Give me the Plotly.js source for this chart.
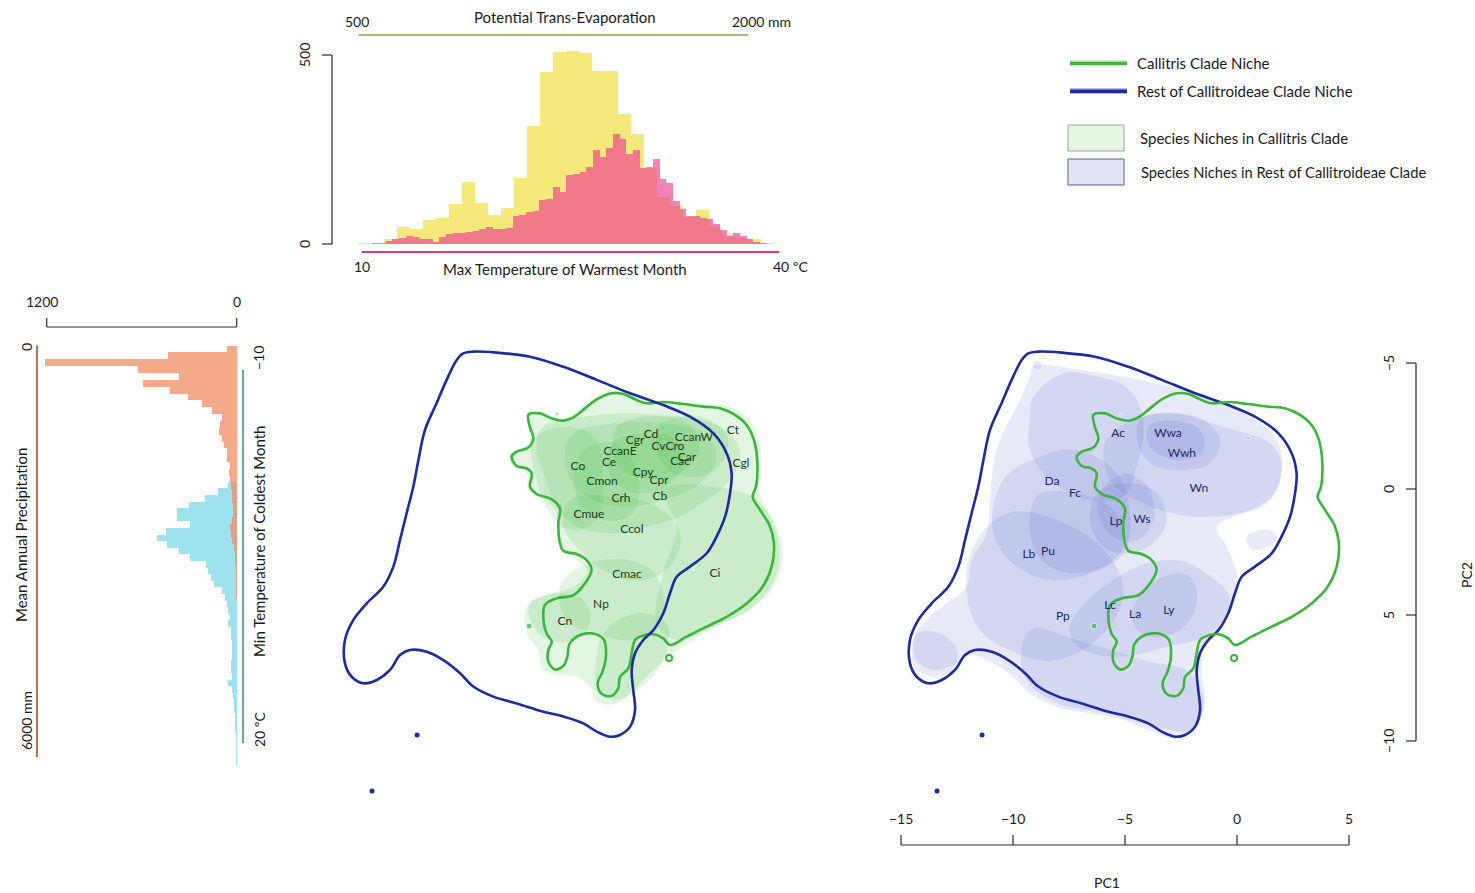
<!DOCTYPE html>
<html>
<head>
<meta charset="utf-8">
<script src="https://cdn.plot.ly/plotly-3.0.1.min.js"></script>
<style>
  html, body { margin: 0; padding: 0; background: #ffffff; }
  #chart { width: 1475px; height: 893px; }
</style>
</head>
<body>
<div id="chart"></div>
<script>
// ---------------------------------------------------------------------------
// Histograms of the climate variables
// ---------------------------------------------------------------------------
// Potential trans-evaporation, 50 mm bins from 450 mm
const petStart = 450, petWidth = 50;
const petCounts = [1, 2, 1, 14, 44, 39, 63, 70, 106, 165, 108, 77, 94, 174, 311, 456, 507, 511, 504,
  458, 459, 343, 290, 202, 125, 100, 72, 90, 46, 24, 15, 12, 3];

// Max temperature of warmest month (°C)
const tmaxStart = 8.85, tmaxWidth = 0.48;
const tmaxCounts = [1, 1, 1, 1, 2, 3, 8, 12, 17, 20, 19, 12, 14, 6, 18, 26, 28, 29, 33, 35,
  40, 46, 41, 41, 42, 74, 76, 85, 87, 116, 118, 150, 137, 183, 186, 191, 205, 249, 229, 253,
  290, 279, 238, 249, 202, 203, 224, 171, 161, 115, 92, 73, 73, 68, 67, 52, 36, 21, 28, 22,
  13, 6, 3, 1];

// Mean annual precipitation, 100 mm bins from 0 mm
const precStart = 0, precWidth = 100;
const precCounts = [59, 432, 1211, 621, 364, 590, 421, 305, 217, 154, 95, 105, 112, 95, 80, 63, 59,
  42, 48, 40, 35, 30, 28, 25, 22, 30, 40, 38, 28, 18, 12, 8, 6, 4, 3, 2, 2, 1];

// Min temperature of coldest month (°C)
const tminStart = -1.0, tminWidth = 0.53;
const tminCounts = [53, 120, 200, 300, 380, 380, 295, 445, 505, 440, 362, 295, 194, 179, 164, 143,
  95, 74, 59, 53, 42, 53, 38, 36, 30, 30, 32, 35, 33, 30, 57, 28, 21, 18, 15, 12, 11, 8, 7, 5, 4, 3, 2];

// ---------------------------------------------------------------------------
// Niche space (PC1, PC2)
// ---------------------------------------------------------------------------
const restCladeOutline = [[-9.32,-5.38],[-8.87,-5.45],[-7.83,-5.41],[-6.34,-5.25],[-4.85,-4.85],[-3.36,-4.33],
  [-1.87,-3.80],[-0.39,-3.33],[0.80,-2.87],[1.85,-2.21],[2.44,-1.42],[2.66,-0.62],[2.59,0.17],[2.37,1.10],
  [1.99,1.89],[1.55,2.55],[0.80,3.08],[0.21,3.48],[-0.09,4.14],[-0.39,4.93],[-0.83,5.60],[-1.28,5.99],
  [-1.65,6.52],[-1.80,7.18],[-1.73,7.98],[-1.65,8.77],[-1.87,9.43],[-2.32,9.76],[-2.77,9.83],[-3.36,9.63],
  [-3.96,9.30],[-4.85,9.03],[-5.74,8.84],[-6.93,8.51],[-7.98,8.24],[-8.87,7.84],[-9.46,7.31],[-10.21,6.79],
  [-10.95,6.46],[-11.70,6.39],[-12.14,6.59],[-12.59,7.18],[-13.18,7.58],[-13.78,7.71],[-14.30,7.45],
  [-14.60,6.92],[-14.60,5.99],[-14.23,5.20],[-13.63,4.54],[-12.89,3.88],[-12.44,3.08],[-12.14,2.02],
  [-11.85,0.97],[-11.55,-0.09],[-11.32,-1.15],[-11.03,-2.34],[-10.51,-3.40],[-10.06,-4.33],[-9.61,-5.12]];

const callitrisOutline = [[-6.41,-2.94],[-5.89,-3.00],[-5.37,-2.80],[-4.85,-2.71],[-4.40,-2.84],[-3.88,-3.20],
  [-3.36,-3.56],[-2.69,-3.80],[-2.17,-3.77],[-1.65,-3.56],[-1.13,-3.40],[-0.39,-3.45],[0.51,-3.37],[1.40,-3.27],
  [2.14,-3.20],[2.81,-2.94],[3.33,-2.54],[3.66,-1.94],[3.81,-1.02],[3.75,-0.09],[3.60,0.30],[3.93,0.83],
  [4.35,1.43],[4.55,2.16],[4.45,3.08],[4.00,3.94],[3.33,4.54],[2.44,5.07],[1.55,5.46],[0.65,5.86],
  [-0.09,6.19],[-0.39,5.93],[-0.76,5.77],[-1.21,5.79],[-1.65,5.99],[-1.80,6.52],[-1.95,7.12],[-2.32,7.45],
  [-2.40,7.91],[-2.69,8.21],[-3.14,8.13],[-3.32,7.71],[-3.10,7.25],[-2.95,6.65],[-3.04,5.99],[-3.36,5.77],
  [-3.81,5.73],[-4.26,5.86],[-4.58,6.15],[-4.67,6.65],[-4.85,7.02],[-5.22,7.16],[-5.52,6.85],[-5.52,6.39],
  [-5.37,6.06],[-5.60,5.73],[-5.74,5.20],[-5.67,4.60],[-5.15,4.34],[-4.40,4.21],[-3.88,3.74],[-3.59,3.21],
  [-3.81,2.82],[-4.26,2.58],[-4.85,2.45],[-5.03,2.02],[-5.07,1.30],[-5.00,0.77],[-5.37,0.41],[-6.04,0.20],
  [-6.34,-0.09],[-6.26,-0.62],[-6.49,-0.82],[-6.93,-0.91],[-7.16,-1.28],[-6.93,-1.48],[-6.41,-1.65],
  [-6.19,-2.01],[-6.34,-2.45]];

// Species niches, Callitris clade
const callitrisSpeciesNiches = [
  [[-6.49,-3.07],[-4.85,-2.80],[-3.66,-3.53],[-2.47,-3.93],[-1.13,-3.53],[1.10,-3.40],[2.59,-3.27],[3.56,-2.61],
   [4.00,-1.28],[3.93,0.17],[4.67,1.49],[4.94,2.69],[4.52,3.88],[3.63,4.67],[2.29,5.33],[0.95,5.99],[0.06,6.52],
   [-0.98,7.31],[-1.87,8.11],[-2.47,8.51],[-3.36,8.44],[-3.66,7.84],[-4.26,7.45],[-5.00,7.38],[-5.74,7.18],
   [-5.97,6.39],[-6.49,5.73],[-6.46,4.67],[-5.60,4.21],[-4.26,3.81],[-3.81,3.21],[-4.55,2.62],[-5.07,2.02],
   [-5.15,0.97],[-5.74,0.37],[-6.41,0.04],[-6.49,-0.62],[-7.16,-0.95],[-7.23,-1.42],[-6.49,-1.75],[-6.26,-2.34]],
  [[-5.74,-2.47],[-3.96,-2.87],[-1.87,-3.00],[0.36,-2.87],[2.14,-2.47],[3.04,-1.55],[2.59,-0.36],[1.55,0.44],
   [0.36,1.10],[-1.13,1.49],[-2.62,1.76],[-4.26,1.49],[-5.15,0.70],[-5.74,-0.62],[-6.04,-1.68]],
  [[-4.55,-2.08],[-2.62,-2.61],[-0.39,-2.61],[1.40,-2.21],[1.99,-1.28],[1.25,-0.22],[-0.39,0.44],[-2.17,0.70],
   [-3.81,0.30],[-4.70,-0.75]],
  [[-2.47,-1.94],[-0.98,-2.21],[0.21,-1.94],[0.51,-1.02],[-0.24,-0.09],[-1.58,0.17],[-2.62,-0.36],[-2.92,-1.28]],
  [[-4.55,0.44],[-2.62,0.30],[-0.68,0.70],[0.36,1.76],[-0.09,3.08],[-1.28,3.61],[-2.77,3.35],[-3.96,2.55],[-4.85,1.49]],
  [[-4.85,3.61],[-3.07,2.82],[-1.13,3.08],[-0.39,4.14],[-0.68,5.46],[-1.87,5.99],[-3.36,5.73],[-4.55,5.33],[-5.00,4.54]],
  [[-0.39,0.04],[1.85,-0.09],[3.78,0.44],[4.67,1.76],[4.67,3.35],[3.63,4.67],[1.85,5.46],[0.21,5.99],[-0.68,5.33],
   [-0.39,3.35],[0.21,1.49]],
  [[-6.34,4.54],[-5.15,4.14],[-3.96,4.40],[-3.66,5.33],[-4.26,5.99],[-5.45,5.99],[-6.19,5.46]],
  [[-3.07,5.73],[-1.58,4.93],[-0.24,5.33],[-0.39,6.79],[-1.58,7.98],[-2.62,8.37],[-3.36,7.84],[-3.36,6.65]],
  [[-6.19,-1.94],[-4.55,-2.47],[-3.36,-1.94],[-3.07,-0.36],[-3.36,1.23],[-4.55,1.63],[-5.45,0.97],[-6.04,-0.36]],
  [[-2.50,-2.40],[-0.80,-2.90],[0.80,-2.50],[1.20,-1.50],[0.30,-0.60],[-1.20,-0.40],[-2.40,-0.90]],
  [[-0.50,-2.60],[1.50,-2.80],[2.50,-2.00],[2.00,-0.80],[0.50,-0.50],[-0.60,-1.30]],
  [[-4.00,-1.50],[-2.50,-1.80],[-1.50,-0.50],[-1.80,1.00],[-3.20,1.20],[-4.30,0.20]]
];

// Species niches, rest of Callitroideae clade
const restSpeciesNiches = [
  [[-9.09,-4.85],[-6.56,-4.66],[-3.59,-4.19],[-1.35,-3.66],[0.58,-2.87],[1.77,-1.94],[1.99,-0.62],[1.32,0.57],
   [-0.16,1.10],[-0.91,1.49],[-0.46,2.29],[-0.01,3.35],[-0.16,4.54],[-0.76,5.60],[-1.43,6.26],[-1.58,7.31],
   [-1.43,8.37],[-1.80,9.43],[-2.69,9.89],[-3.74,9.63],[-5.07,9.17],[-6.56,8.90],[-8.05,8.64],[-9.24,8.11],
   [-9.99,7.45],[-11.03,6.85],[-11.92,6.59],[-12.66,6.98],[-13.56,7.18],[-14.30,6.79],[-14.38,5.86],
   [-13.71,5.07],[-12.96,4.54],[-12.07,3.88],[-11.85,2.82],[-11.18,1.76],[-11.03,0.44],[-10.88,-0.89],
   [-10.58,-1.94],[-9.69,-3.53],[-9.24,-4.46]],
  [[-9.09,-3.66],[-7.75,-4.59],[-6.26,-4.46],[-4.78,-3.93],[-4.18,-2.61],[-4.48,-0.89],[-5.07,0.30],[-6.56,0.44],
   [-8.35,-0.36],[-9.24,-1.55],[-9.24,-2.87]],
  [[-4.33,-2.74],[-2.84,-3.00],[-1.50,-2.74],[-0.76,-1.94],[-1.21,-1.02],[-2.40,-0.75],[-3.59,-0.89],[-4.33,-1.55]],
  [[-3.88,-2.54],[-2.54,-2.67],[-1.65,-2.34],[-1.50,-1.55],[-2.40,-1.15],[-3.59,-1.42],[-4.03,-1.94]],
  [[-5.82,-1.94],[-3.59,-3.00],[-0.61,-2.47],[1.77,-1.55],[1.77,0.04],[0.58,0.83],[-1.35,1.10],[-2.84,0.97],
   [-4.48,0.44],[-5.67,-0.36]],
  [[-6.26,0.17],[-5.07,-0.22],[-3.74,0.04],[-3.14,1.10],[-3.59,2.02],[-4.78,2.55],[-5.97,2.29],[-6.56,1.23]],
  [[-10.43,-0.36],[-8.79,-1.28],[-7.16,-1.55],[-5.37,-0.62],[-4.78,0.97],[-5.07,2.55],[-6.56,3.35],[-8.35,3.61],
   [-9.84,3.08],[-10.88,1.76]],
  [[-8.94,0.30],[-7.16,0.17],[-5.37,0.97],[-5.07,2.29],[-6.26,3.21],[-8.05,3.21],[-9.09,2.29]],
  [[-11.77,2.29],[-10.28,0.97],[-8.05,1.23],[-5.82,2.55],[-5.07,4.14],[-5.97,5.73],[-8.05,6.79],[-9.84,6.52],
   [-11.47,5.60],[-12.07,4.14]],
  [[-7.16,4.93],[-5.07,3.35],[-2.84,2.82],[-1.35,3.35],[-0.31,4.40],[-1.21,5.73],[-3.14,6.26],[-5.07,6.65],
   [-6.86,6.39],[-7.46,5.73]],
  [[-4.48,4.40],[-3.29,3.48],[-2.10,3.48],[-1.80,4.54],[-2.54,5.60],[-3.88,5.86],[-4.63,5.33]],
  [[-9.24,5.60],[-7.16,5.99],[-4.18,6.79],[-2.10,7.31],[-1.50,8.64],[-2.10,9.56],[-3.59,9.43],[-5.82,8.90],
   [-8.35,8.37],[-9.54,7.31]],
  [[-14.30,5.73],[-13.26,5.73],[-12.51,6.39],[-12.66,7.18],[-13.56,7.45],[-14.38,7.05]],
  [[0.43,1.89],[1.47,1.63],[1.77,2.02],[0.73,2.42]],
  [[-6.00,0.00],[-5.00,-0.60],[-4.00,-0.10],[-3.70,1.10],[-4.40,2.00],[-5.50,1.90],[-6.20,1.00]]
];

// Isolated occurrences
const callitrisPoints = [[-6.38,5.44],[-5.13,-2.98],[0.49,-2.02]];
const callitrisRing = [[-0.13,6.71]];
const restPoints = [[-11.38,9.76],[-13.39,11.98]];
const restFaintPoints = [[-8.93,-4.92]];

// Species labels
const callitrisLabels = ['Ct','Cgl','Cd','Cgr','CcanW','CvCro','CcanE','Car','Cac','Ce','Co','Cpy','Cpr',
  'Cmon','Crh','Cb','Cmue','Ccol','Cmac','Ci','Np','Cn'];
const callitrisLabelPC1 = [2.72,3.08,-0.94,-1.65,0.98,-0.18,-2.32,0.67,0.36,-2.81,-4.20,-1.29,-0.58,
  -3.12,-2.28,-0.54,-3.71,-1.79,-2.01,1.92,-3.17,-4.78];
const callitrisLabelPC2 = [-2.30,-0.99,-2.14,-1.90,-2.02,-1.67,-1.47,-1.23,-1.07,-1.03,-0.87,-0.63,-0.32,
  -0.28,0.40,0.32,1.03,1.63,3.41,3.37,4.60,5.28];

const restLabels = ['Ac','Wwa','Wwh','Wn','Da','Fc','Lp','Ws','Lb','Pu','Lc','La','Ly','Pp'];
const restLabelPC1 = [-5.31,-3.08,-2.46,-1.70,-8.26,-7.23,-5.40,-4.24,-9.29,-8.44,-5.67,-4.55,-3.04,-7.77];
const restLabelPC2 = [-2.18,-2.18,-1.39,0.00,-0.28,0.20,1.31,1.23,2.62,2.50,4.64,5.00,4.84,5.08];

// Axis ticks
const pc1Ticks = [-15, -10, -5, 0, 5];
const pc1TickText = ['\u221215', '\u221210', '\u22125', '0', '5'];
const pc2Ticks = [-5, 0, 5, 10];
const pc2TickText = ['\u22125', '0', '5', '\u221210'];
const topCountTicks = [0, 500];
const sideCountTicks = [0, 1200];

// ---------------------------------------------------------------------------
const W = 1475, H = 893;
const px = v => v / W;          // pixel column -> paper x
const py = v => 1 - v / H;      // pixel row -> paper y
const FONT = 'Lato, "Open Sans", sans-serif';
const INK = '#1a1a1a';

const centers = (start, width, n) => Array.from({length: n}, (_, i) => start + width * (i + 0.5));
const closed = pts => pts.concat([pts[0]]);
const xs = pts => pts.map(p => p[0]);
const ys = pts => pts.map(p => p[1]);

const GREEN_FILL = 'rgba(70,185,70,0.15)';
const BLUE_FILL = 'rgba(85,95,205,0.135)';
const GREEN_LINE = '#3bb63b';
const BLUE_LINE = '#1d2b9c';

const traces = [];

// top histogram: PET (yellow) underneath, max temperature (pink) over it
traces.push({
  type: 'bar', xaxis: 'x', yaxis: 'y',
  x: centers(petStart, petWidth, petCounts.length), y: petCounts, width: petWidth,
  marker: {color: '#f4e97a', line: {width: 0}}, hoverinfo: 'skip'
});
traces.push({
  type: 'bar', xaxis: 'x2', yaxis: 'y',
  x: centers(tmaxStart, tmaxWidth, tmaxCounts.length), y: tmaxCounts, width: tmaxWidth,
  marker: {color: 'rgba(238,62,148,0.65)', line: {width: 0}}, hoverinfo: 'skip'
});

// side histogram: min temperature (cyan) underneath, precipitation (orange) over it
traces.push({
  type: 'bar', orientation: 'h', xaxis: 'x3', yaxis: 'y3',
  y: centers(tminStart, tminWidth, tminCounts.length), x: tminCounts, width: tminWidth,
  marker: {color: 'rgba(120,215,232,0.72)', line: {width: 0}}, hoverinfo: 'skip'
});
traces.push({
  type: 'bar', orientation: 'h', xaxis: 'x3', yaxis: 'y4',
  y: centers(precStart, precWidth, precCounts.length), x: precCounts, width: precWidth,
  marker: {color: 'rgba(240,140,100,0.75)', line: {width: 0}}, hoverinfo: 'skip'
});

function blobs(list, fill, xa, ya) {
  list.forEach(poly => {
    const c = closed(poly);
    traces.push({
      type: 'scatter', mode: 'lines', xaxis: xa, yaxis: ya,
      x: xs(c), y: ys(c), fill: 'toself', fillcolor: fill,
      line: {width: 0, shape: 'spline', smoothing: 1.1, color: 'rgba(0,0,0,0)'},
      hoverinfo: 'skip'
    });
  });
}
function outline(pts, color, xa, ya) {
  const c = closed(pts);
  traces.push({
    type: 'scatter', mode: 'lines', xaxis: xa, yaxis: ya, x: xs(c), y: ys(c),
    line: {color: color, width: 2.6, shape: 'spline', smoothing: 1.0}, hoverinfo: 'skip'
  });
}
function points(pts, xa, ya, marker) {
  traces.push({type: 'scatter', mode: 'markers', xaxis: xa, yaxis: ya, x: xs(pts), y: ys(pts),
    marker: marker, hoverinfo: 'skip'});
}
function labels(text, x, y, xa, ya, color) {
  traces.push({type: 'scatter', mode: 'text', xaxis: xa, yaxis: ya, x: x, y: y, text: text,
    textposition: 'middle center', textfont: {family: FONT, size: 12, color: color}, hoverinfo: 'skip'});
}

// middle panel: Callitris clade
blobs(callitrisSpeciesNiches, GREEN_FILL, 'x5', 'y5');
outline(callitrisOutline, GREEN_LINE, 'x5', 'y5');
outline(restCladeOutline, BLUE_LINE, 'x5', 'y5');
points(callitrisPoints, 'x5', 'y5', {color: GREEN_LINE, size: [6, 3, 2]});
points(callitrisRing, 'x5', 'y5', {color: GREEN_LINE, size: 6, symbol: 'circle-open', line: {width: 2, color: GREEN_LINE}});
points(restPoints, 'x5', 'y5', {color: BLUE_LINE, size: 5});
labels(callitrisLabels, callitrisLabelPC1, callitrisLabelPC2, 'x5', 'y5', '#223a22');

// right panel: rest of Callitroideae
blobs(restSpeciesNiches, BLUE_FILL, 'x6', 'y6');
points(restFaintPoints, 'x6', 'y6', {color: 'rgba(85,95,205,0.15)', size: 8});
outline(restCladeOutline, BLUE_LINE, 'x6', 'y6');
outline(callitrisOutline, GREEN_LINE, 'x6', 'y6');
points(callitrisPoints, 'x6', 'y6', {color: GREEN_LINE, size: [6, 2, 3]});
points(callitrisRing, 'x6', 'y6', {color: GREEN_LINE, size: 6, symbol: 'circle-open', line: {width: 2, color: GREEN_LINE}});
points(restPoints, 'x6', 'y6', {color: BLUE_LINE, size: 5});
labels(restLabels, restLabelPC1, restLabelPC2, 'x6', 'y6', '#1e275e');

// ---------------------------------------------------------------------------
const shapes = [];
const line = (o, color, width) => Object.assign({type: 'line', line: {color: color, width: width}, layer: 'above'}, o);
const AX = '#2b2b2b';

// top histogram scales
shapes.push(line({xref: 'x', yref: 'y', x0: 500, x1: 2000, y0: 552.9, y1: 552.9}, '#bfb07b', 2));
shapes.push(line({xref: 'x2', yref: 'y', x0: 10, x1: 40, y0: -21.2, y1: -21.2}, '#d63b9b', 2));
shapes.push(line({xref: 'paper', yref: 'y', x0: px(332), x1: px(332), y0: 0, y1: 500}, AX, 1.2));
topCountTicks.forEach(v => shapes.push(line({xref: 'paper', yref: 'y', x0: px(322), x1: px(332), y0: v, y1: v}, AX, 1.2)));

// side histogram scales
shapes.push(line({xref: 'x3', yref: 'paper', x0: 0, x1: 1200, y0: py(327), y1: py(327)}, AX, 1.2));
sideCountTicks.forEach(v => shapes.push(line({xref: 'x3', yref: 'paper', x0: v, x1: v, y0: py(327), y1: py(318)}, AX, 1.2)));
shapes.push(line({xref: 'paper', yref: 'y4', x0: px(37), x1: px(37), y0: 0, y1: 6000}, '#b4471d', 1.6));
shapes.push(line({xref: 'paper', yref: 'y3', x0: px(243), x1: px(243), y0: -10, y1: 20}, '#3f9191', 1.6));

// PC axes
shapes.push(line({xref: 'x6', yref: 'paper', x0: -15, x1: 5, y0: py(845), y1: py(845)}, AX, 1.2));
pc1Ticks.forEach(v => shapes.push(line({xref: 'x6', yref: 'paper', x0: v, x1: v, y0: py(845), y1: py(835)}, AX, 1.2)));
shapes.push(line({xref: 'paper', yref: 'y6', x0: px(1416), x1: px(1416), y0: -5, y1: 10}, AX, 1.2));
pc2Ticks.forEach(v => shapes.push(line({xref: 'paper', yref: 'y6', x0: px(1406), x1: px(1416), y0: v, y1: v}, AX, 1.2)));

// legend keys
shapes.push(line({xref: 'paper', yref: 'paper', x0: px(1070), x1: px(1127), y0: py(63), y1: py(63)}, '#9fe09f', 5));
shapes.push(line({xref: 'paper', yref: 'paper', x0: px(1070), x1: px(1127), y0: py(63.5), y1: py(63.5)}, GREEN_LINE, 3));
shapes.push(line({xref: 'paper', yref: 'paper', x0: px(1070), x1: px(1127), y0: py(91), y1: py(91)}, '#6a76c8', 5));
shapes.push(line({xref: 'paper', yref: 'paper', x0: px(1070), x1: px(1127), y0: py(91.5), y1: py(91.5)}, BLUE_LINE, 3));
shapes.push({type: 'rect', xref: 'paper', yref: 'paper', x0: px(1068), x1: px(1124), y0: py(151), y1: py(125),
  fillcolor: '#e6f5e4', line: {color: '#94a894', width: 1}});
shapes.push({type: 'rect', xref: 'paper', yref: 'paper', x0: px(1068), x1: px(1124), y0: py(185), y1: py(159),
  fillcolor: '#e3e5f6', line: {color: '#5d5f8e', width: 1}});

// ---------------------------------------------------------------------------
const annotations = [];
const txt = (text, x, y, extra) => Object.assign({
  text: text, x: px(x), y: py(y), xref: 'paper', yref: 'paper', showarrow: false,
  xanchor: 'center', yanchor: 'middle', font: {family: FONT, size: 15, color: INK}
}, extra || {});
const rot = {textangle: -90};
const small = {font: {family: FONT, size: 14, color: INK}};

annotations.push(txt('Potential Trans-Evaporation', 565, 17));
annotations.push(txt('500', 357, 22, small));
annotations.push(txt('2000 mm', 762, 22, small));
annotations.push(txt('10', 362, 267, small));
annotations.push(txt('40 \u00baC', 790, 267, small));
annotations.push(txt('Max Temperature of Warmest Month', 565, 269));
topCountTicks.forEach(v => annotations.push({
  text: String(v), x: px(304), xref: 'paper', y: v, yref: 'y', showarrow: false, textangle: -90,
  xanchor: 'center', yanchor: 'middle', font: {family: FONT, size: 14, color: INK}
}));

sideCountTicks.forEach(v => annotations.push({
  text: String(v), x: v, xref: 'x3', y: py(301), yref: 'paper', showarrow: false,
  xshift: v > 0 ? -5 : 0,
  xanchor: 'center', yanchor: 'middle', font: {family: FONT, size: 14, color: INK}
}));
annotations.push(txt('0', 26, 347, Object.assign({}, small, rot)));
annotations.push(txt('6000 mm', 26, 721, Object.assign({}, small, rot)));
annotations.push(txt('Mean Annual Precipitation', 21, 535, rot));
annotations.push(txt('\u221210', 258, 358, Object.assign({}, small, rot)));
annotations.push(txt('20 \u00baC', 259, 730, Object.assign({}, small, rot)));
annotations.push(txt('Min Temperature of Coldest Month', 259, 542, rot));

pc1Ticks.forEach((v, i) => annotations.push({
  text: pc1TickText[i], x: v, xref: 'x6', y: py(818), yref: 'paper', showarrow: false,
  xanchor: 'center', yanchor: 'middle', font: {family: FONT, size: 14, color: INK}
}));
annotations.push(txt('PC1', 1107, 882, small));
pc2Ticks.forEach((v, i) => annotations.push({
  text: pc2TickText[i], x: px(1388), xref: 'paper', y: v, yref: 'y6', showarrow: false, textangle: -90,
  xanchor: 'center', yanchor: 'middle', font: {family: FONT, size: 14, color: INK}
}));
annotations.push(txt('PC2', 1466, 575, Object.assign({}, small, rot)));

annotations.push(txt('Callitris Clade Niche', 1135, 63, {xanchor: 'left'}));
annotations.push(txt('Rest of Callitroideae Clade Niche', 1135, 91, {xanchor: 'left'}));
annotations.push(txt('Species Niches in Callitris Clade', 1138, 138, {xanchor: 'left'}));
annotations.push(txt('Species Niches in Rest of Callitroideae Clade', 1139, 172,
  {xanchor: 'left', font: {family: FONT, size: 14.7, color: INK}}));

// ---------------------------------------------------------------------------
const hidden = o => Object.assign({visible: false, showgrid: false, zeroline: false, fixedrange: true}, o);

const layout = {
  width: W, height: H,
  margin: {l: 0, r: 0, t: 0, b: 0},
  paper_bgcolor: '#ffffff', plot_bgcolor: 'rgba(0,0,0,0)',
  showlegend: false, barmode: 'overlay', bargap: 0,
  font: {family: FONT, size: 14, color: INK},
  xaxis:  hidden({domain: [px(290), px(800)], range: [237.31, 2198.85], anchor: 'y'}),
  xaxis2: hidden({range: [4.849, 41.487], overlaying: 'x', anchor: 'y'}),
  yaxis:  hidden({domain: [py(285), 1], range: [-108.47, 645.5], anchor: 'x'}),
  xaxis3: hidden({domain: [0, px(280)], range: [1494.9, -273.5], anchor: 'y3'}),
  yaxis3: hidden({domain: [py(780), py(290)], range: [22.976, -16.434], anchor: 'x3'}),
  yaxis4: hidden({range: [6335.4, -809.2], overlaying: 'y3', anchor: 'x3'}),
  xaxis5: hidden({domain: [px(300), px(820)], range: [-16.607, 6.607], anchor: 'y5'}),
  yaxis5: hidden({domain: [0, py(330)], range: [16.032, -6.3095], anchor: 'x5'}),
  xaxis6: hidden({domain: [px(865), 1], range: [-16.607, 10.625], anchor: 'y6'}),
  yaxis6: hidden({domain: [0, py(330)], range: [16.032, -6.3095], anchor: 'x6'}),
  shapes: shapes,
  annotations: annotations
};

Plotly.newPlot('chart', traces, layout, {staticPlot: true, displayModeBar: false});
</script>
</body>
</html>
